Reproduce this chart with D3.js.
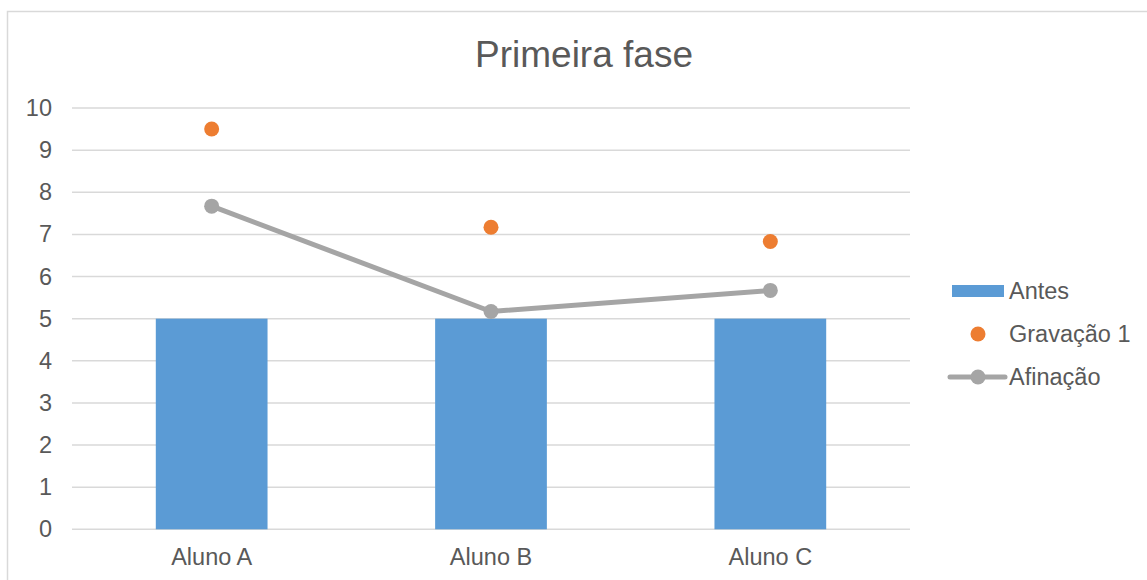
<!DOCTYPE html>
<html>
<head>
<meta charset="utf-8">
<script src="https://cdn.jsdelivr.net/npm/d3@7"></script>
<style>
  html, body { margin: 0; padding: 0; background: #fff; }
  svg { display: block; font-family: "Liberation Sans", Arial, sans-serif; }
</style>
</head>
<body>
<svg id="chart" width="1147" height="580"></svg>
<script>
// Data
const categories = ["Aluno A", "Aluno B", "Aluno C"];
const antes = [5, 5, 5];
const gravacao1 = [9.5, 7.17, 6.83];
const afinacao = [7.67, 5.17, 5.67];
const yTicks = [0, 1, 2, 3, 4, 5, 6, 7, 8, 9, 10];
const seriesNames = ["Antes", "Gravação 1", "Afinação"];
const titleText = "Primeira fase";

const colors = { antes: "#5b9bd5", grav: "#ed7d31", afin: "#a5a5a5", text: "#595959", grid: "#d9d9d9" };
const labelSize = 23.5;

const svg = d3.select("#chart");

// Chart frame
svg.append("rect")
  .attr("x", 7.5).attr("y", 11.5)
  .attr("width", 1160).attr("height", 600)
  .attr("fill", "#fff")
  .attr("stroke", colors.grid).attr("stroke-width", 1.5);

const plot = { left: 72, right: 910, top: 108, bottom: 529.3 };

const x = d3.scaleBand()
  .domain(categories)
  .range([plot.left, plot.right])
  .paddingInner(0.6)
  .paddingOuter(0.3);

const y = d3.scaleLinear()
  .domain([0, 10])
  .range([plot.bottom, plot.top]);

// Gridlines
svg.append("g")
  .selectAll("line")
  .data(yTicks)
  .join("line")
  .attr("x1", plot.left).attr("x2", plot.right)
  .attr("y1", d => y(d)).attr("y2", d => y(d))
  .attr("stroke", colors.grid).attr("stroke-width", 1.5);

// Y axis labels
const yAxis = d3.axisLeft(y).tickValues(yTicks).tickSize(0).tickPadding(0);
const yg = svg.append("g")
  .attr("transform", `translate(${52},0)`)
  .call(yAxis);
yg.select(".domain").remove();
yg.selectAll("text")
  .attr("fill", colors.text)
  .attr("font-size", labelSize)
  .attr("font-family", "Liberation Sans, Arial, sans-serif");

// X axis labels
const xAxis = d3.axisBottom(x).tickSize(0).tickPadding(0);
const xg = svg.append("g")
  .attr("transform", `translate(0,${plot.bottom + 19})`)
  .call(xAxis);
xg.select(".domain").remove();
xg.selectAll("text")
  .attr("fill", colors.text)
  .attr("font-size", labelSize)
  .attr("font-family", "Liberation Sans, Arial, sans-serif");

// Bars: Antes
svg.append("g")
  .selectAll("rect")
  .data(categories)
  .join("rect")
  .attr("x", d => x(d))
  .attr("width", x.bandwidth())
  .attr("y", (d, i) => y(antes[i]))
  .attr("height", (d, i) => y(0) - y(antes[i]))
  .attr("fill", colors.antes);

const cx = d => x(d) + x.bandwidth() / 2;

// Line: Afinação
const line = d3.line()
  .x((d, i) => cx(categories[i]))
  .y(d => y(d));
svg.append("path")
  .datum(afinacao)
  .attr("d", line)
  .attr("fill", "none")
  .attr("stroke", colors.afin)
  .attr("stroke-width", 5)
  .attr("stroke-linejoin", "round");
svg.append("g")
  .selectAll("circle")
  .data(afinacao)
  .join("circle")
  .attr("cx", (d, i) => cx(categories[i]))
  .attr("cy", d => y(d))
  .attr("r", 7.5)
  .attr("fill", colors.afin);

// Markers: Gravação 1
svg.append("g")
  .selectAll("circle")
  .data(gravacao1)
  .join("circle")
  .attr("cx", (d, i) => cx(categories[i]))
  .attr("cy", d => y(d))
  .attr("r", 7.5)
  .attr("fill", colors.grav);

// Title
svg.append("text")
  .attr("x", 584).attr("y", 66.5)
  .attr("text-anchor", "middle")
  .attr("fill", colors.text)
  .attr("font-size", 37)
  .text(titleText);

// Legend
const legend = svg.append("g");
const rowY = [291, 334, 377];
const symX = 978;
const textX = 1009;

legend.append("rect")
  .attr("x", 952).attr("y", rowY[0] - 6)
  .attr("width", 52).attr("height", 12)
  .attr("fill", colors.antes);
legend.append("circle")
  .attr("cx", symX).attr("cy", rowY[1]).attr("r", 7.5)
  .attr("fill", colors.grav);
legend.append("line")
  .attr("x1", 950).attr("x2", 1005)
  .attr("y1", rowY[2]).attr("y2", rowY[2])
  .attr("stroke", colors.afin).attr("stroke-width", 5).attr("stroke-linecap", "round");
legend.append("circle")
  .attr("cx", symX).attr("cy", rowY[2]).attr("r", 7.5)
  .attr("fill", colors.afin);

legend.selectAll("text")
  .data(seriesNames)
  .join("text")
  .attr("x", textX)
  .attr("y", (d, i) => rowY[i])
  .attr("dy", "0.35em")
  .attr("fill", colors.text)
  .attr("font-size", labelSize)
  .text(d => d);
</script>
</body>
</html>
